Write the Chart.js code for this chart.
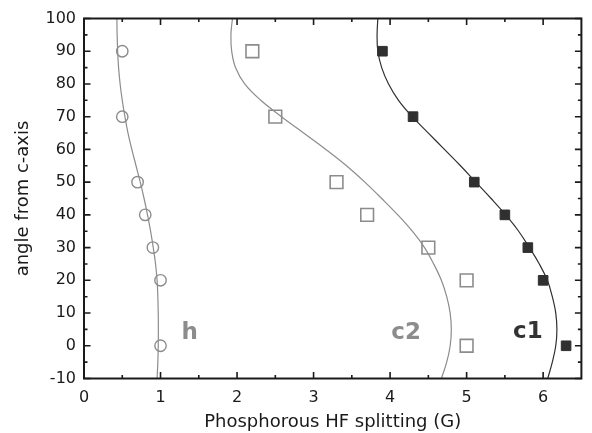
<!DOCTYPE html>
<html>
<head>
<meta charset="utf-8">
<script src="https://cdn.jsdelivr.net/npm/chart.js@4.4.1/dist/chart.umd.min.js"></script>
<style>
  html, body { margin: 0; padding: 0; background: #ffffff; }
  #wrap { width: 592px; height: 433px; }
</style>
</head>
<body>
<div id="wrap"><canvas id="c" width="592" height="433"></canvas></div>
<script>
// ---- measured data (angle from c-axis vs P HF splitting in G) ----
const hAngles  = [90, 70, 50, 40, 30, 20, 0];
const hSplit   = [0.5, 0.5, 0.7, 0.8, 0.9, 1.0, 1.0];

const c2Angles = [90, 70, 50, 40, 30, 20, 0];
const c2Split  = [2.2, 2.5, 3.3, 3.7, 4.5, 5.0, 5.0];

const c1Angles = [90, 70, 50, 40, 30, 20, 0];
const c1Split  = [3.9, 4.3, 5.1, 5.5, 5.8, 6.0, 6.3];

// ---- fitted curves ----
const curveAngles = [-10, -5, 0, 5, 10, 15, 20, 25, 30, 35, 40, 45, 50, 55, 60, 65, 70, 75, 80, 85, 90, 95, 100];
const hCurve  = [0.955, 0.965, 0.97, 0.972, 0.97, 0.965, 0.955, 0.935, 0.905, 0.87, 0.83, 0.785, 0.735, 0.68, 0.625, 0.575, 0.535, 0.50, 0.472, 0.452, 0.44, 0.433, 0.43];
const c2Curve = [4.67, 4.74, 4.785, 4.80, 4.785, 4.74, 4.67, 4.57, 4.45, 4.29, 4.10, 3.89, 3.67, 3.43, 3.16, 2.87, 2.58, 2.31, 2.10, 1.98, 1.93, 1.92, 1.94];
const c1Curve = [6.06, 6.12, 6.165, 6.18, 6.165, 6.12, 6.055, 5.95, 5.82, 5.68, 5.51, 5.32, 5.12, 4.92, 4.71, 4.50, 4.29, 4.11, 3.98, 3.89, 3.84, 3.83, 3.84];

// ---- axes ----
const xMajorTicks = [0, 1, 2, 3, 4, 5, 6];
const xMinorTicks = [0.5, 1.5, 2.5, 3.5, 4.5, 5.5];
const yMajorTicks = [-10, 0, 10, 20, 30, 40, 50, 60, 70, 80, 90, 100];
const yMinorTicks = [-5, 5, 15, 25, 35, 45, 55, 65, 75, 85, 95];

// ---- curve labels ----
const seriesLabels = ['h', 'c2', 'c1'];
const labelAt = [[1.38, 4], [4.21, 4], [5.8, 4.2]];
const labelColors = ['#8c8c8c', '#8c8c8c', '#333333'];

const GRAY = '#8c8c8c';
const DARK = '#303030';

function pts(xs, ys) { return xs.map((x, i) => ({ x: x, y: ys[i] })); }

const frameTicks = {
  id: 'frameTicks',
  afterDatasetsDraw(chart) {
    const { ctx, chartArea: a, scales: { x, y } } = chart;
    ctx.save();
    ctx.strokeStyle = '#1a1a1a';
    ctx.lineWidth = 2;
    ctx.strokeRect(a.left, a.top, a.right - a.left, a.bottom - a.top);
    ctx.lineWidth = 1.6;
    const tick = (v, len, horiz) => {
      ctx.beginPath();
      if (horiz) {
        const px = x.getPixelForValue(v);
        ctx.moveTo(px, a.bottom); ctx.lineTo(px, a.bottom - len);
        ctx.moveTo(px, a.top); ctx.lineTo(px, a.top + len);
      } else {
        const py = y.getPixelForValue(v);
        ctx.moveTo(a.left, py); ctx.lineTo(a.left + len, py);
        ctx.moveTo(a.right, py); ctx.lineTo(a.right - len, py);
      }
      ctx.stroke();
    };
    xMajorTicks.forEach(v => tick(v, 6.5, true));
    xMinorTicks.forEach(v => tick(v, 3.5, true));
    yMajorTicks.forEach(v => tick(v, 6.5, false));
    yMinorTicks.forEach(v => tick(v, 3.5, false));
    // labels
    ctx.font = 'bold 23px "DejaVu Sans"';
    ctx.textAlign = 'center';
    ctx.textBaseline = 'middle';
    seriesLabels.forEach((t, i) => {
      ctx.fillStyle = labelColors[i];
      ctx.fillText(t, x.getPixelForValue(labelAt[i][0]), y.getPixelForValue(labelAt[i][1]));
    });
    ctx.restore();
  }
};

new Chart(document.getElementById('c'), {
  type: 'scatter',
  data: {
    datasets: [
      { data: pts(hCurve, curveAngles), showLine: true, pointRadius: 0, borderColor: GRAY, borderWidth: 1.2, tension: 0.4, fill: false },
      { data: pts(c2Curve, curveAngles), showLine: true, pointRadius: 0, borderColor: GRAY, borderWidth: 1.2, tension: 0.4, fill: false },
      { data: pts(c1Curve, curveAngles), showLine: true, pointRadius: 0, borderColor: DARK, borderWidth: 1.2, tension: 0.4, fill: false },
      { data: pts(hSplit, hAngles), pointStyle: 'circle', pointRadius: 5.7, borderWidth: 1.4, borderColor: GRAY, backgroundColor: 'rgba(255,255,255,0)' },
      { data: pts(c2Split, c2Angles), pointStyle: 'rect', pointRadius: 9.0, borderWidth: 1.6, borderColor: GRAY, backgroundColor: 'rgba(255,255,255,0)' },
      { data: pts(c1Split, c1Angles), pointStyle: 'rect', pointRadius: 6.8, borderWidth: 1, borderColor: DARK, backgroundColor: DARK }
    ]
  },
  options: {
    responsive: false,
    animation: false,
    devicePixelRatio: 1,
    layout: { padding: { top: 18.5, right: 3.5, bottom: 0, left: 0 } },
    plugins: { legend: { display: false }, tooltip: { enabled: false } },
    scales: {
      x: {
        type: 'linear', min: 0, max: 6.5,
        afterBuildTicks: s => { s.ticks = xMajorTicks.map(v => ({ value: v })); },
        afterFit: s => { s.height = 54.5; },
        grid: { display: false, drawTicks: false },
        border: { display: false },
        ticks: { color: '#1a1a1a', padding: 10, font: { family: 'DejaVu Sans', size: 16 }, maxRotation: 0 },
        title: { display: true, text: 'Phosphorous HF splitting (G)', color: '#1a1a1a', font: { family: 'DejaVu Sans', size: 18 }, padding: { top: 0, bottom: 0 } }
      },
      y: {
        type: 'linear', min: -10, max: 100,
        afterBuildTicks: s => { s.ticks = yMajorTicks.map(v => ({ value: v })); },
        afterFit: s => { s.width = 84; },
        grid: { display: false, drawTicks: false },
        border: { display: false },
        ticks: { color: '#1a1a1a', padding: 8, font: { family: 'DejaVu Sans', size: 16 } },
        title: { display: true, text: 'angle from c-axis', color: '#1a1a1a', font: { family: 'DejaVu Sans', size: 18 }, padding: { top: 13, bottom: 0 } }
      }
    }
  },
  plugins: [frameTicks]
});
</script>
</body>
</html>
